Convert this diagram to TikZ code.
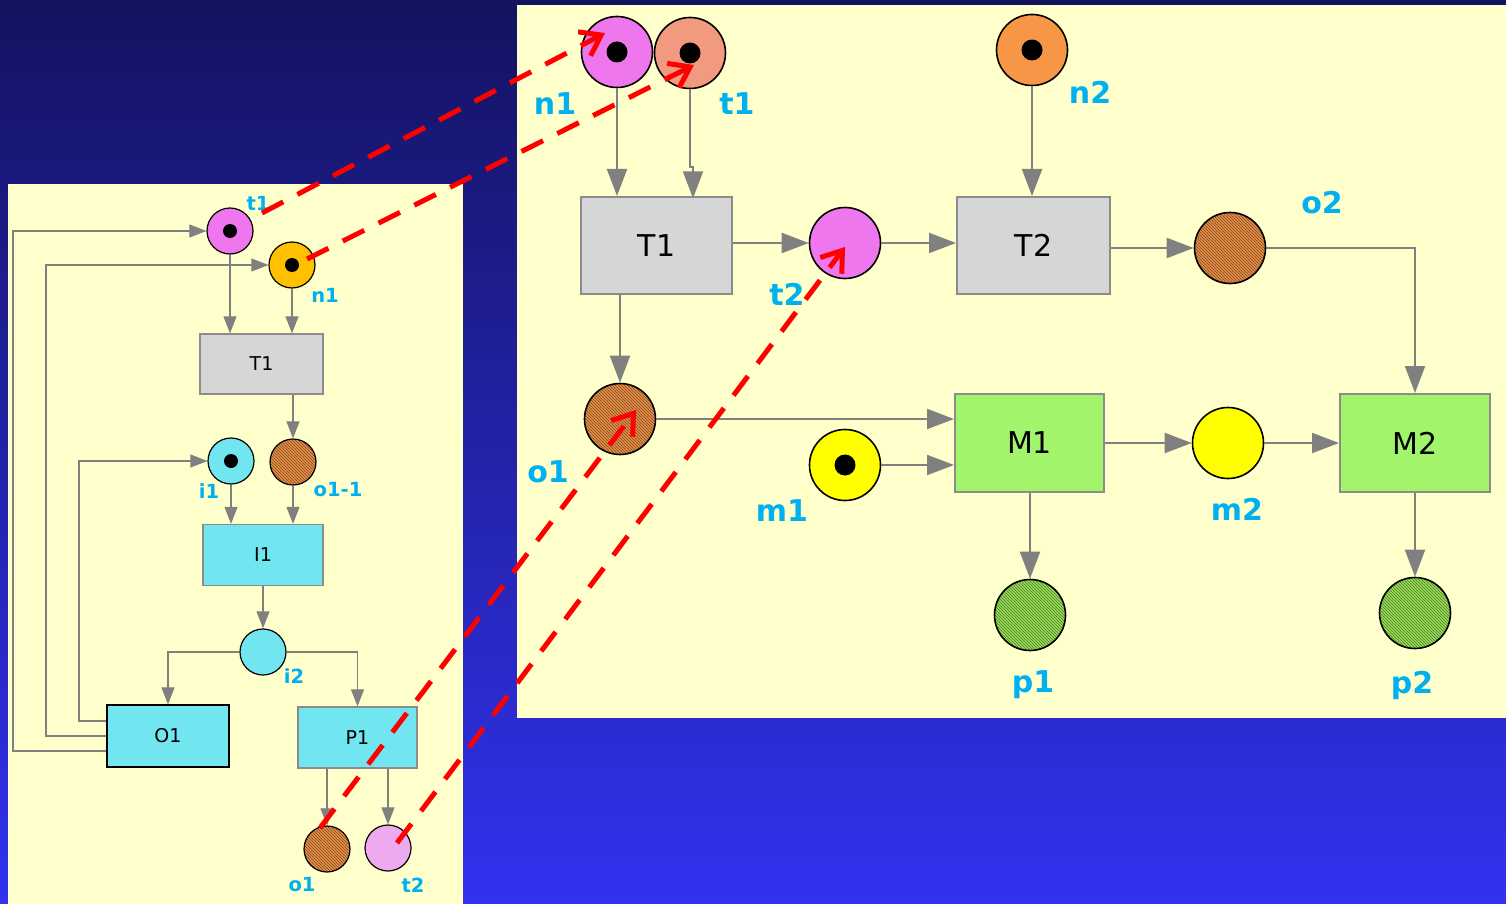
\documentclass[tikz,border=0pt]{standalone}
\usepackage{fontspec}
\setmainfont{DejaVu Sans}
\usetikzlibrary{arrows.meta,patterns,calc}
\definecolor{bgtop}{HTML}{131360}
\definecolor{bgmid}{HTML}{2323A8}
\definecolor{bgbot}{HTML}{3232F0}
\definecolor{panelY}{HTML}{FFFFCC}
\definecolor{pinkV}{HTML}{EE77EE}
\definecolor{pinkL}{HTML}{EEAAEE}
\definecolor{salmonS}{HTML}{F19A80}
\definecolor{goldO}{HTML}{FFC000}
\definecolor{orangeN}{HTML}{F79646}
\definecolor{cyanC}{HTML}{72E6F0}
\definecolor{yellowY}{HTML}{FFFF00}
\definecolor{greyBox}{HTML}{D6D6D6}
\definecolor{greenBox}{HTML}{A2F56A}
\definecolor{brownBase}{HTML}{E0904A}
\definecolor{brownLine}{HTML}{8A4A1A}
\definecolor{greenBase}{HTML}{9ADB5A}
\definecolor{greenLine}{HTML}{4E7E22}
\definecolor{labCyan}{HTML}{00B0F0}
\definecolor{connGray}{HTML}{808080}
\definecolor{boxGray}{HTML}{8C8C8C}
\begin{document}
\begin{tikzpicture}[x=1pt,y=-1pt,
  lconn/.style={draw=connGray, line width=1.1pt, -{Triangle[length=17pt,width=13pt]}},
  rconn/.style={draw=connGray, line width=2pt, -{Triangle[length=27pt,width=20pt]}},
  lplace/.style={circle, draw=black, line width=1.2pt, minimum size=46pt, inner sep=0pt},
  rplace/.style={circle, draw=black, line width=1.6pt, minimum size=71pt, inner sep=0pt},
  ltok/.style={path picture={\fill[black] (path picture bounding box.center) circle (7pt);}},
  rtok/.style={path picture={\fill[black] (path picture bounding box.center) circle (10.5pt);}},
  hatchbrown/.style={preaction={fill=brownBase}, preaction={pattern=north west lines, pattern color=brownLine}},
  hatchgreen/.style={preaction={fill=greenBase}, preaction={pattern=north west lines, pattern color=greenLine}},
  lbox/.style={rectangle, draw=boxGray, line width=1.3pt, inner sep=0pt, font=\fontsize{19}{23}\selectfont},
  rbox/.style={rectangle, draw=boxGray, line width=2pt, inner sep=0pt, font=\fontsize{30}{36}\selectfont},
  llab/.style={text=labCyan, inner sep=0pt, font=\fontsize{19.5}{23}\selectfont\bfseries},
  rlab/.style={text=labCyan, inner sep=0pt, font=\fontsize{30}{36}\selectfont\bfseries},
  redarr/.style={draw=red, line width=5pt, dash pattern=on 24pt off 16pt, -{Straight Barb[length=19pt,width=27pt]}}
]
\useasboundingbox (0,0) rectangle (1506,904);
\shade[top color=bgtop, middle color=bgmid, bottom color=bgbot] (0,0) rectangle (1506,904);
\fill[panelY] (8,184) rectangle (463,904);
\fill[panelY] (517,5) rectangle (1506,718);

% ---------- left net ----------
\node[lplace, fill=pinkV, ltok] (lt1) at (230,231) {};
\node[lplace, fill=goldO, ltok] (ln1) at (292,265) {};
\node[lbox, fill=greyBox, minimum width=123pt, minimum height=60pt] (lT1) at (261.5,364) {T1};
\node[lplace, fill=cyanC, ltok] (li1) at (231,461) {};
\node[lplace, hatchbrown] (lo11) at (293,462) {};
\node[lbox, fill=cyanC, minimum width=120pt, minimum height=61pt] (lI1) at (263,555) {I1};
\node[lplace, fill=cyanC] (li2) at (263,652) {};
\node[lbox, draw=black, fill=cyanC, minimum width=122pt, minimum height=62pt] (lO1) at (168,736) {O1};
\node[lbox, fill=cyanC, minimum width=119pt, minimum height=61pt] (lP1) at (357.5,737.5) {P1};
\node[lplace, hatchbrown] (lo1) at (327,849) {};
\node[lplace, fill=pinkL] (lt2) at (388,848) {};

\node[llab] (llt1) at (258,203) {t1};
\node[llab] (lln1) at (325,295) {n1};
\node[llab] (lli1) at (209,491) {i1};
\node[llab] (llo11) at (338,490) {o1-1};
\node[llab] (lli2) at (294,676) {i2};
\node[llab] (llo1) at (302,885) {o1};
\node[llab] (llt2) at (413,885) {t2};

\draw[lconn] (lt1.south) -- (lt1.south |- lT1.north);
\draw[lconn] (ln1.south) -- (ln1.south |- lT1.north);
\draw[lconn] (lo11 |- lT1.south) -- (lo11.north);
\draw[lconn] (li1.south) -- (li1.south |- lI1.north);
\draw[lconn] (lo11.south) -- (lo11.south |- lI1.north);
\draw[lconn] (li2 |- lI1.south) -- (li2.north);
\draw[lconn] (li2.west) -| (lO1.north);
\draw[lconn] (li2.east) -| (lP1.north);
\draw[lconn] (lo1 |- lP1.south) -- (lo1.north);
\draw[lconn] (lt2 |- lP1.south) -- (lt2.north);
\draw[lconn] ([yshift=15pt]lO1.west) -| (79,461) -- (li1.west);
\draw[lconn] (lO1.west) -| (46,265) -- (ln1.west);
\draw[lconn] ([yshift=-15pt]lO1.west) -| (13,231) -- (lt1.west);

% ---------- right net ----------
\node[rplace, fill=pinkV, rtok] (rn1) at (617,52) {};
\node[rplace, fill=salmonS, rtok] (rt1) at (690,53) {};
\node[rplace, fill=orangeN, rtok] (rn2) at (1032,50) {};
\node[rbox, fill=greyBox, minimum width=151pt, minimum height=97pt] (rT1) at (656.5,245.5) {T1};
\node[rplace, fill=pinkV] (rt2) at (845,243) {};
\node[rbox, fill=greyBox, minimum width=153pt, minimum height=97pt] (rT2) at (1033.5,245.5) {T2};
\node[rplace, hatchbrown] (ro2) at (1230,248) {};
\node[rplace, hatchbrown] (ro1) at (620,419) {};
\node[rplace, fill=yellowY, rtok] (rm1) at (845,465) {};
\node[rbox, fill=greenBox, minimum width=149pt, minimum height=98pt] (rM1) at (1029.5,443) {M1};
\node[rplace, fill=yellowY] (rm2) at (1228,443) {};
\node[rbox, fill=greenBox, minimum width=150pt, minimum height=98pt] (rM2) at (1415,443) {M2};
\node[rplace, hatchgreen] (rp1) at (1030,615) {};
\node[rplace, hatchgreen] (rp2) at (1415,613) {};

\node[rlab] (lrn1) at (555,104) {n1};
\node[rlab] (lrt1) at (737,104) {t1};
\node[rlab] (lrn2) at (1090,92) {n2};
\node[rlab] (lro2) at (1322,203) {o2};
\node[rlab] (lrt2) at (787,294) {t2};
\node[rlab] (lro1) at (548,472) {o1};
\node[rlab] (lrm1) at (782,511) {m1};
\node[rlab] (lrm2) at (1237,509) {m2};
\node[rlab] (lrp1) at (1033,685) {p1};
\node[rlab] (lrp2) at (1412,685) {p2};

\draw[rconn] (rn1.south) -- (rn1.south |- rT1.north);
\draw[rconn] (rt1.south) -- ++(0,78) -- ++(3,0) -- ++(0,31);
\draw[rconn] (rT1.east |- rt2.west) -- (rt2.west);
\draw[rconn] (rt2.east) -- (rt2.east -| rT2.west);
\draw[rconn] (rn2.south) -- (rn2.south |- rT2.north);
\draw[rconn] (rT2.east |- ro2.west) -- (ro2.west);
\draw[rconn] (ro2.east) -| (rM2.north);
\draw[rconn] (ro1 |- rT1.south) -- (ro1.north);
\draw[rconn] (ro1.east) -- (ro1.east -| rM1.west);
\draw[rconn] (rm1.east) -- (rm1.east -| rM1.west);
\draw[rconn] (rM1.east) -- (rm2.west);
\draw[rconn] (rm2.east) -- (rM2.west);
\draw[rconn] (rp1 |- rM1.south) -- (rp1.north);
\draw[rconn] (rp2 |- rM2.south) -- (rp2.north);

% ---------- red mapping arrows ----------
\draw[redarr] ($(lt1)+(32,-18)$) -- ($(rn1)+(-12,-19)$);
\draw[redarr] ($(ln1)+(15,-6)$) -- ($(rt1)+(4,12)$);
\draw[redarr] ($(lo1)+(-7,-21)$) -- ($(ro1)+(16,-9)$);
\draw[redarr] ($(lt2)+(9,-5)$) -- ($(rt2)+(0,4)$);
\end{tikzpicture}
\end{document}
